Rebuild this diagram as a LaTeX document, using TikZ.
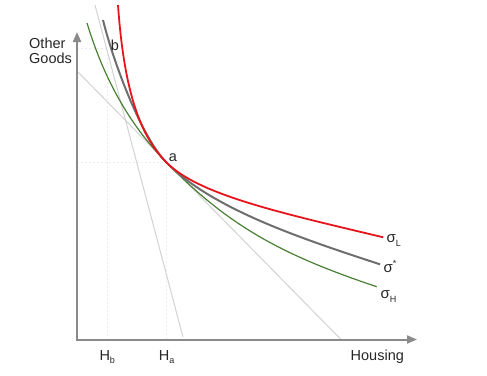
\documentclass[tikz,border=0pt]{standalone}
\usepackage{fontspec}
\setmainfont{Liberation Sans}
\usetikzlibrary{arrows.meta}
\definecolor{axisgray}{HTML}{8A8A8A}
\definecolor{curvered}{HTML}{E8141C}
\definecolor{curvegray}{HTML}{6E6E6E}
\definecolor{curvegreen}{HTML}{4A8034}
\definecolor{budgetgray}{HTML}{D2D2D2}
\definecolor{guidegray}{HTML}{EDEDED}
\definecolor{labelcol}{HTML}{262626}
\newcommand{\subsz}{\fontsize{9}{9}\selectfont}
\begin{document}
\begin{tikzpicture}[x=1pt,y=-1pt,
  axisline/.style={draw=axisgray, line width=2pt,
    {Triangle[length=10pt,width=8pt]}-{Triangle[length=10pt,width=8pt]}},
  guide/.style={draw=guidegray, line width=0.8pt, dash pattern=on 2pt off 2pt},
  budget/.style={draw=budgetgray, line width=1pt},
  redcurve/.style={draw=curvered, line width=1.8pt},
  graycurve/.style={draw=curvegray, line width=2pt},
  greencurve/.style={draw=curvegreen, line width=1.2pt},
  lbl/.style={text=labelcol, inner sep=0pt, font=\fontsize{14.5}{16}\selectfont},
  siglbl/.style={text=labelcol, inner sep=0pt, font=\fontsize{15}{16}\selectfont, anchor=base west}
]
\useasboundingbox (0,0) rectangle (487,375);

% key coordinates
\coordinate (ytip) at (77,32);
\coordinate (O) at (77,339.5);
\coordinate (xtip) at (417,339.5);
\coordinate (a) at (166,162);
\coordinate (HbTop) at (107,48);
\coordinate (HbBot) at (107,339.5);
\coordinate (HaBot) at (166,339.5);
\coordinate (Ya) at (77,162);
\coordinate (Yb) at (77,48);
\coordinate (B1s) at (77,71);
\coordinate (B1e) at (341,339.5);
\coordinate (B2s) at (95,5);
\coordinate (B2e) at (183,337);

% guide lines
\draw[guide] (Yb) -- (HbTop) -- (HbBot);
\draw[guide] (Ya) -- (a) -- (HaBot);

% budget lines
\draw[budget] (B1s) -- (B1e);
\draw[budget] (B2s) -- (B2e);

% axes
\draw[axisline] (ytip) -- (O) -- (xtip);

% indifference curves
\draw[greencurve] (87,23) .. controls (103,75.8) and (127.6,122.7) .. (a)
  .. controls (228.9,226.4) and (281.9,254.9) .. (376.7,286.7);
\draw[graycurve] (103,20) .. controls (113.8,63.6) and (141.5,137) .. (a)
  .. controls (211.4,208.5) and (299.2,237.9) .. (380,264.3);
\draw[redcurve] (118,5) .. controls (124.3,95) and (141.5,137) .. (a)
  .. controls (197.5,194.2) and (276.3,211.9) .. (383.3,237.3);

% labels
\node[lbl, anchor=base west] (other) at (29,48) {Other};
\node[lbl, anchor=base west] (goods) at (29,63.5) {Goods};
\node[lbl, anchor=base west] (housing) at (350.5,360) {Housing};
\node[lbl, anchor=base west] (hb) at (99.3,360) {H\raisebox{-3pt}{\subsz b}};
\node[lbl, anchor=base west] (ha) at (158.7,360) {H\raisebox{-3pt}{\subsz a}};
\node[lbl, anchor=base] (alab) at (173,161) {a};
\node[lbl, anchor=base] (blab) at (115,50.5) {b};
\node[siglbl] (sL) at (386.5,242.5) {σ\raisebox{-4pt}{\subsz L}};
\node[siglbl] (sS) at (383.5,272) {σ\raisebox{6pt}{\subsz *}};
\node[siglbl] (sH) at (380.5,298) {σ\raisebox{-4pt}{\subsz H}};
\end{tikzpicture}
\end{document}
